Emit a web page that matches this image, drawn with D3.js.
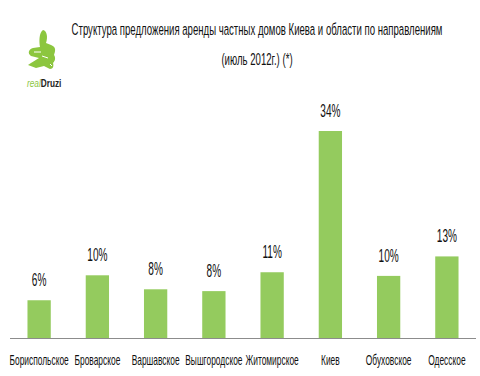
<!DOCTYPE html>
<html>
<head>
<meta charset="utf-8">
<script src="https://cdn.jsdelivr.net/npm/d3@7"></script>
<style>
  body { margin: 0; background: #fff; }
  svg { display: block; }
</style>
</head>
<body>
<div id="chart"></div>
<script>
// data (percent of offers)
const regions = ["Бориспольское", "Броварское", "Варшавское", "Вышгородское",
                 "Житомирское", "Киев", "Обуховское", "Одесское"];
const shares = [6.2, 10.3, 8.0, 7.7, 10.8, 34, 10.2, 13.4];
const titleLines = ["Структура предложения аренды частных домов Киева и области по направлениям",
                    "(июль 2012г.) (*)"];

const width = 480, height = 376;
const baseY = 338;
const font = "'Liberation Sans', Arial, sans-serif";

const svg = d3.select("#chart")
  .append("svg")
    .attr("width", width)
    .attr("height", height);

// x scale
const x = d3.scaleBand()
    .domain(regions)
    .range([10, 476])
    .paddingInner(0.6)
    .paddingOuter(0.3);

// y scale
const y = d3.scaleLinear()
    .domain([0, 34])
    .range([baseY, 131]);

// bars
svg.append("g")
  .selectAll("rect")
  .data(regions)
  .join("rect")
    .attr("x", d => x(d))
    .attr("y", (d, i) => y(shares[i]))
    .attr("width", x.bandwidth())
    .attr("height", (d, i) => baseY - y(shares[i]))
    .attr("fill", "#94cb5e");

// baseline + category labels
const axis = svg.append("g")
    .attr("transform", `translate(0,${baseY})`)
    .call(d3.axisBottom(x).tickSize(0).tickPadding(0));
axis.select(".domain").attr("stroke", "#8c8c8c").attr("d", "M10,0.5H476");
axis.selectAll(".tick text")
    .attr("x", 0)
    .attr("y", 0)
    .attr("dy", 0)
    .attr("transform", "translate(0,27) scale(0.6,1)")
    .style("font-family", font)
    .style("font-size", "14px")
    .attr("fill", "#111");

// value labels
svg.append("g")
  .selectAll("text")
  .data(regions)
  .join("text")
    .attr("transform", (d, i) => `translate(${x(d) + x.bandwidth() / 2},${y(shares[i]) - 14}) scale(0.56,1)`)
    .attr("text-anchor", "middle")
    .style("font-family", font)
    .style("font-size", "18px")
    .attr("fill", "#111")
    .text((d, i) => Math.round(shares[i]) + "%");

// title
svg.append("g")
  .selectAll("text")
  .data(titleLines)
  .join("text")
    .attr("transform", (d, i) => `translate(257,${35 + i * 30}) scale(0.565,1)`)
    .attr("text-anchor", "middle")
    .style("font-family", font)
    .style("font-size", "17px")
    .attr("fill", "#111")
    .text(d => d);

// logo
const logo = svg.append("g").attr("transform", "translate(24,28)");
logo.append("path")
    .attr("d", "M19,2 C23,3 24,9 22,15 L27,17 C33,19 31,24 30,27 C32,30 31,33 29,35 C30,38 29,41 26,41 L20,38 L12,40 L4,37 C8,34 12,32 15,30 L7,28 C3,25 5,21 9,20 L16,19 C15,13 15,5 19,2 Z")
    .attr("fill", "#8cc63f");
logo.append("path")
    .attr("d", "M10,24 L17,24 M18,28 L24,30 M26,36 L28,38")
    .attr("stroke", "#fff")
    .attr("stroke-width", 1)
    .attr("fill", "none");
const logoText = logo.append("text")
    .attr("transform", "translate(3,59) scale(0.75,1)")
    .style("font-family", font)
    .style("font-size", "11px");
logoText.append("tspan")
    .attr("fill", "#8cc63f")
    .style("font-style", "italic")
    .text("real");
logoText.append("tspan")
    .attr("fill", "#222")
    .style("font-weight", "bold")
    .text("Druzi");
</script>
</body>
</html>
